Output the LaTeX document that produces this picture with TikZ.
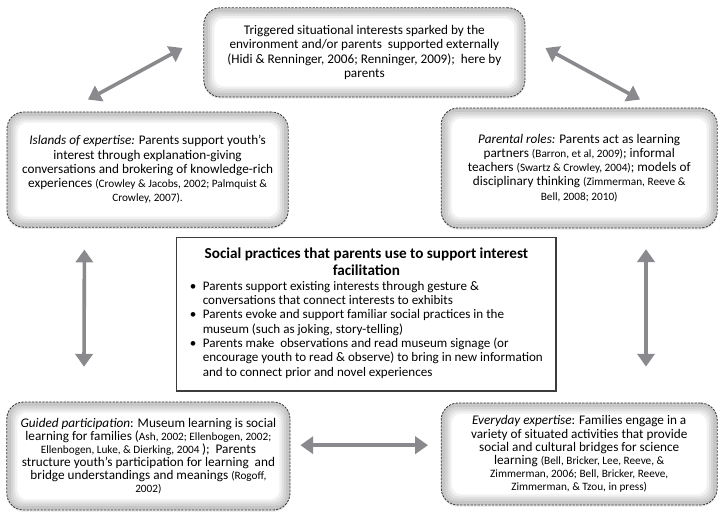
\documentclass[tikz,border=0pt]{standalone}
\usepackage{fontspec}
\setmainfont{Carlito}
\usetikzlibrary{arrows.meta,shadows}

\definecolor{ringgray}{HTML}{C6C6C6}
\definecolor{arrowgray}{HTML}{8A8A8E}
\definecolor{edgegray}{HTML}{3C3C3C}

\newcommand{\txtsz}{\fontsize{9.4}{10.1}\selectfont}
\newcommand{\tightsz}{\fontsize{9.4}{9.3}\selectfont}
\newcommand{\refsz}{\fontsize{8}{9.3}\selectfont}
\newcommand{\headsz}{\fontsize{10.8}{11.8}\selectfont}
\newcommand{\itemsz}{\fontsize{9.3}{10.2}\selectfont}

\tikzset{
  bubble/.style={draw=edgegray, line width=0.6pt, dash pattern=on 1.6pt off 0.9pt,
    rounded corners=12pt, fill=ringgray, align=center, font=\txtsz,
    drop shadow={opacity=0.2, shadow xshift=0pt, shadow yshift=-1.2pt},
    path picture={
      \foreach \d/\c in {3pt/75,4.5pt/50,6pt/25,7.5pt/0}
        \fill[ringgray!\c!white, rounded corners=7pt]
          ([shift={(\d,\d)}]path picture bounding box.south west) rectangle
          ([shift={(-\d,-\d)}]path picture bounding box.north east);
    }},
  practicebox/.style={draw=edgegray, line width=0.8pt, fill=white, inner sep=0pt, font=\itemsz},
  twoway/.style={{Triangle[width=0.43cm,length=0.32cm]}-{Triangle[width=0.43cm,length=0.32cm]},
    line width=0.09cm, draw=arrowgray, fill=arrowgray}
}

\begin{document}
\begin{tikzpicture}
\useasboundingbox (0, 0) rectangle (18, 12.85);

\node [bubble, minimum width=8.03cm, minimum height=2.23cm] (trigger) at (9.11, 11.54)
  {Triggered situational interests sparked by the\\
   environment and/or parents\ \ supported externally\\
   (Hidi \& Renninger, 2006; Renninger, 2009);\ \ here by\\
   parents};

\node [bubble, minimum width=7.03cm, minimum height=2.88cm] (islands) at (3.69, 8.61)
  {\textit{Islands of expertise:} Parents support youth’s\\
   interest through explanation-giving\\
   conversations and brokering of knowledge-rich\\
   experiences {\refsz (Crowley \& Jacobs, 2002; Palmquist \&}\\
   {\refsz Crowley, 2007).}};

\node [bubble, minimum width=6.9cm, minimum height=3.0cm] (roles) at (14.48, 8.65)
  {\textit{Parental roles:} Parents act as learning\\
   partners {\refsz (Barron, et al, 2009)}; informal\\
   teachers {\refsz (Swartz \& Crowley, 2004)}; models of\\
   disciplinary thinking {\refsz (Zimmerman, Reeve \&}\\
   {\refsz Bell, 2008; 2010)}};

\node [bubble, font=\tightsz, minimum width=7.08cm, minimum height=2.7cm] (guided) at (3.71, 1.45)
  {\textit{Guided participation}: Museum learning is social\\
   learning for families ({\refsz Ash, 2002; Ellenbogen, 2002;}\\
   {\refsz Ellenbogen, Luke, \& Dierking, 2004 });\ \ Parents\\
   structure youth’s participation for learning\ \ and\\
   bridge understandings and meanings {\refsz (Rogoff,}\\
   {\refsz 2002)}};

\node [bubble, font=\tightsz, minimum width=6.9cm, minimum height=2.55cm] (everyday) at (14.48, 1.5)
  {\textit{Everyday expertise}: Families engage in a\\
   variety of situated activities that provide\\
   social and cultural bridges for science\\
   learning {\refsz (Bell, Bricker, Lee, Reeve, \&}\\
   {\refsz Zimmerman, 2006; Bell, Bricker, Reeve,}\\
   {\refsz Zimmerman, \& Tzou, in press)}};

\node [practicebox, minimum width=9.48cm, minimum height=3.83cm] (practices) at (9.16, 4.99)
  {\begin{tabular}{@{}l@{\hspace{4.5pt}}l@{}}
   \multicolumn{2}{c}{\headsz\bfseries Social practices that parents use to support interest}\\[1pt]
   \multicolumn{2}{c}{\headsz\bfseries facilitation}\\[0.3pt]
   \textbullet & Parents support existing interests through gesture \&\\
     & conversations that connect interests to exhibits\\
   \textbullet & Parents evoke and support familiar social practices in the\\
     & museum (such as joking, story-telling)\\
   \textbullet & Parents make\ \ observations and read museum signage (or\\
     & encourage youth to read \& observe) to bring in new information\\
     & and to connect prior and novel experiences
   \end{tabular}};

% two-way arrows between the boxes
\draw [twoway] ([xshift=-0.52cm, yshift=0.11cm]trigger.west) -- ([xshift=-1.49cm, yshift=0.3cm]islands.north);
\draw [twoway] ([xshift=0.5cm, yshift=0.11cm]trigger.east) -- ([xshift=1.52cm, yshift=0.2cm]roles.north);
\draw [twoway] ([xshift=-1.58cm, yshift=-0.55cm]islands.south) -- ([xshift=-1.61cm, yshift=0.87cm]guided.north);
\draw [twoway] ([xshift=1.67cm, yshift=-0.52cm]roles.south) -- ([xshift=1.67cm, yshift=0.9cm]everyday.north);
\draw [twoway] ([xshift=0.25cm, yshift=0.27cm]guided.east) -- ([xshift=-0.32cm, yshift=0.22cm]everyday.west);
\end{tikzpicture}
\end{document}
